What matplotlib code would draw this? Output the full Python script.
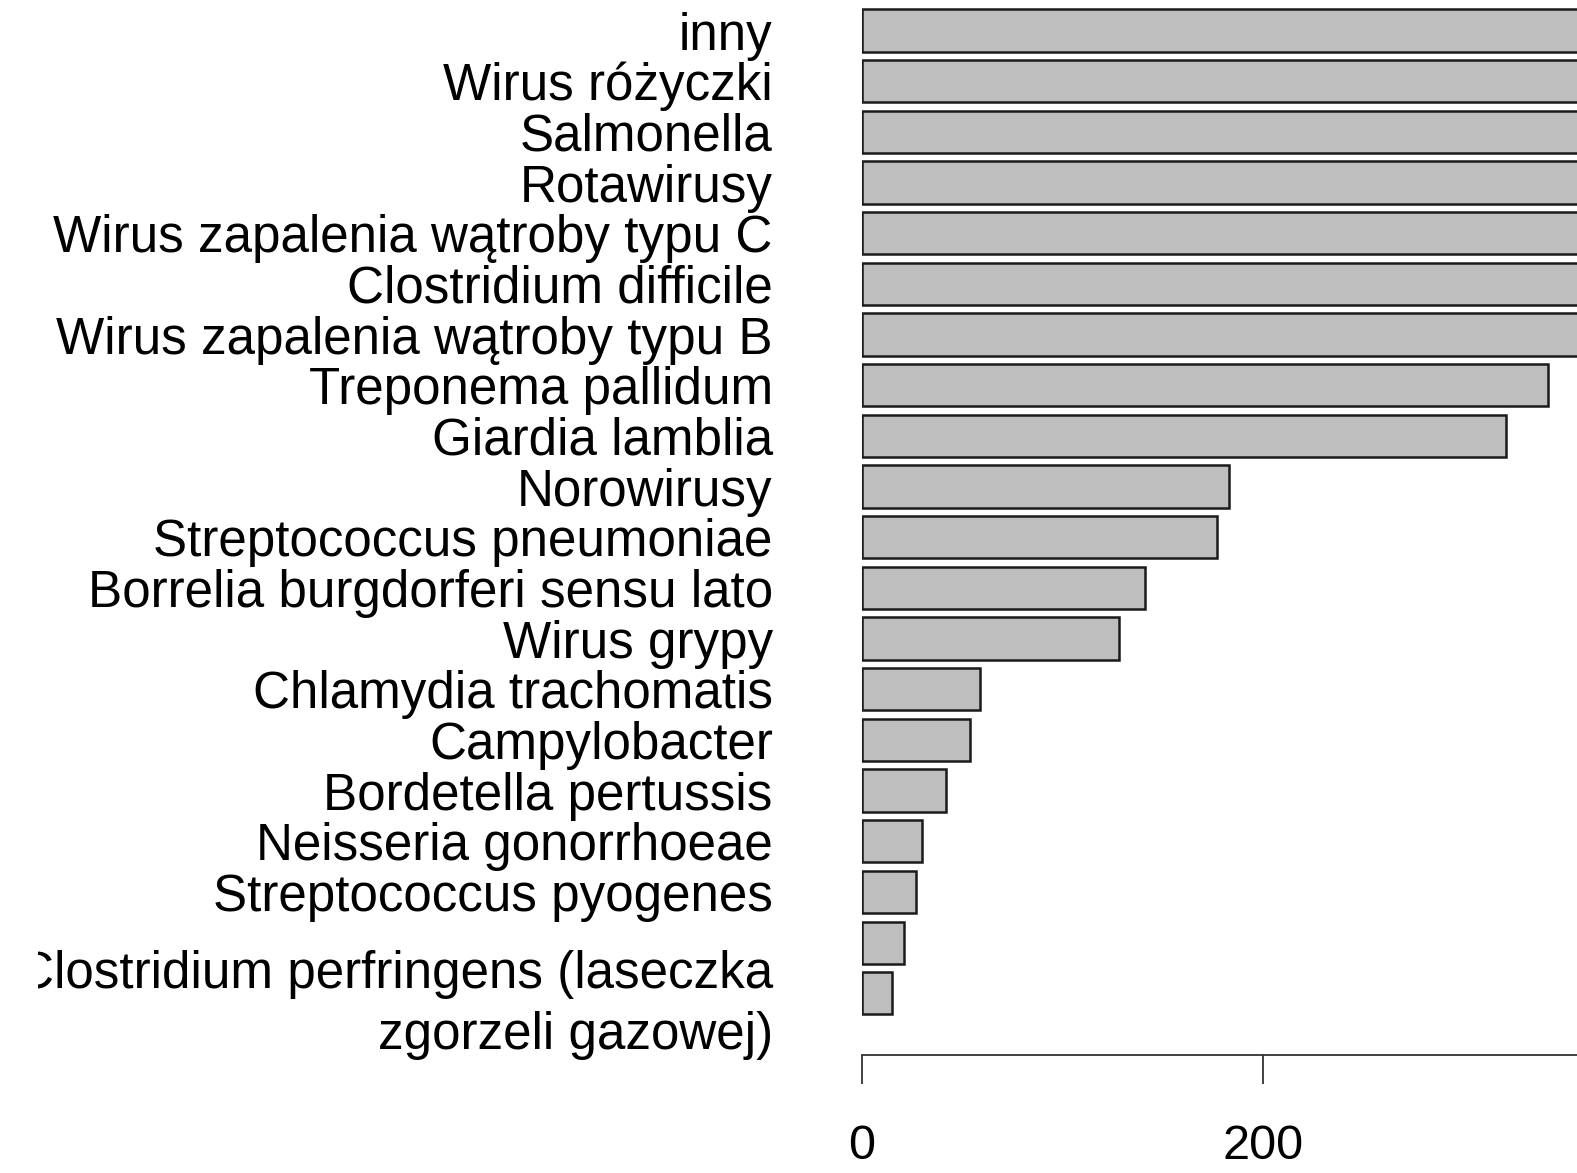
import matplotlib
matplotlib.use("Agg")
import matplotlib.pyplot as plt
from matplotlib.transforms import Bbox, TransformedBbox

plt.rcParams['font.family'] = ['Liberation Sans', 'DejaVu Sans']

# top to bottom as drawn; first seven run past the right edge of the picture
labels = [
    "inny",
    "Wirus różyczki",
    "Salmonella",
    "Rotawirusy",
    "Wirus zapalenia wątroby typu C",
    "Clostridium difficile",
    "Wirus zapalenia wątroby typu B",
    "Treponema pallidum",
    "Giardia lamblia",
    "Norowirusy",
    "Streptococcus pneumoniae",
    "Borrelia burgdorferi sensu lato",
    "Wirus grypy",
    "Chlamydia trachomatis",
    "Campylobacter",
    "Bordetella pertussis",
    "Neisseria gonorrhoeae",
    "Streptococcus pyogenes",
    "",
    "Clostridium perfringens (laseczka\nzgorzeli gazowej)",
]
values = [700, 600, 550, 500, 450, 420, 380, 342, 321, 183,
          177, 141, 128, 59, 54, 42, 30, 27, 21, 15]

# R barplot puts the first bar at the bottom
labels = labels[::-1]
values = values[::-1]
pos = list(range(len(values)))

W, H = 1577, 1173
fig = plt.figure(figsize=(W / 100, H / 100), dpi=100)
ax = fig.add_axes([861.7 / W, 1 - 1055 / H, 1 - 861.7 / W, 1055 / H])

ax.barh(pos, values, height=1 / 1.2, color="#bebebe", edgecolor="#1a1a1a", linewidth=1.8)

ax.set_xlim(0, (W - 861.7) / 2.008)
ax.set_ylim(-1.218, 19.603)

for s in ["top", "right", "left"]:
    ax.spines[s].set_visible(False)
ax.spines["bottom"].set_linewidth(1.3)
ax.spines["bottom"].set_color("#333333")

ax.set_xticks([0, 200])
ax.set_xticklabels(["0", "200"])
ax.tick_params(axis="x", direction="out", length=21, width=1.3, color="#333333",
               labelsize=35, pad=29)

ax.set_yticks(pos)
ax.set_yticklabels(labels, linespacing=1.33)
ax.tick_params(axis="y", length=0, labelsize=36.8, pad=64)

# the device cut the long label on its left
clip = TransformedBbox(Bbox([[38 / W, 0], [1, 1]]), fig.transFigure)
for t in ax.get_yticklabels():
    t.set_clip_box(clip)
    t.set_clip_on(True)

fig.savefig("out.png", dpi=100)
